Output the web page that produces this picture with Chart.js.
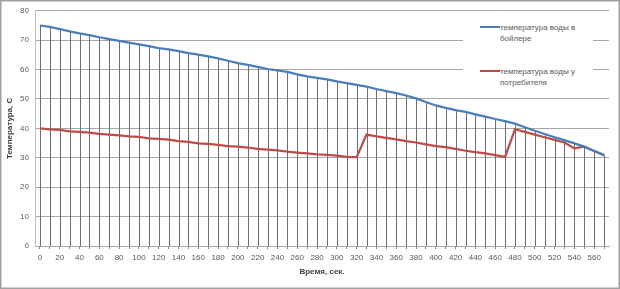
<!DOCTYPE html>
<html><head><meta charset="utf-8">
<script src="https://cdn.jsdelivr.net/npm/chart.js@4"></script>
<style>
html,body{margin:0;padding:0;background:#fff;}
#wrap{position:relative;width:620px;height:289px;}
canvas{display:block;}
#legend{position:absolute;left:463px;top:12px;width:130px;height:83px;background:#fff;font-family:"Liberation Sans",Arial,sans-serif;font-size:8px;color:#595959;}
.sw{position:absolute;left:17px;width:20px;height:2px;}
.txt{position:absolute;left:37px;line-height:11px;white-space:nowrap;}
</style>
</head><body>
<div id="wrap">
<canvas id="c" width="620" height="289"></canvas>
<div id="legend">
  <div class="sw" style="top:14px;background:#4a7ebb"></div>
  <div class="txt" style="top:9.5px">температура воды в<br>бойлере</div>
  <div class="sw" style="top:58px;background:#be4b48"></div>
  <div class="txt" style="top:53.5px">температура воды у<br>потребителя</div>
</div>
</div>
<script>
const times = [0,10,20,30,40,50,60,70,80,90,100,110,120,130,140,150,160,170,180,190,200,210,220,230,240,250,260,270,280,290,300,310,320,330,340,350,360,370,380,390,400,410,420,430,440,450,460,470,480,490,500,510,520,530,540,550,560,570];
const boiler = [75,74.5,73.8,73.0,72.3,71.7,71.0,70.4,69.8,69.2,68.6,68.0,67.3,66.9,66.3,65.6,65.1,64.5,63.8,63.0,62.2,61.6,60.9,60.2,59.7,59.2,58.4,57.7,57.2,56.7,56.0,55.4,54.8,54.2,53.4,52.7,52.0,51.2,50.2,49.0,47.8,47.0,46.2,45.6,44.8,44.0,43.2,42.5,41.6,40.4,39.2,38.1,37.0,36.0,34.9,33.8,32.3,30.9];
const consumer = [40.0,39.7,39.5,39.0,38.8,38.6,38.1,37.9,37.6,37.3,37.1,36.6,36.4,36.2,35.7,35.4,34.9,34.7,34.4,34.0,33.8,33.5,33.0,32.8,32.5,32.1,31.8,31.5,31.2,31.0,30.7,30.3,30.2,37.9,37.3,36.8,36.3,35.7,35.2,34.6,34.0,33.6,33.0,32.4,31.9,31.5,30.9,30.3,39.7,38.8,37.9,37.0,36.1,35.2,33.2,33.8,32.3,30.9];
const yTicks = [0,10,20,30,40,50,60,70,80];
const seriesNames = ['температура воды в бойлере','температура воды у потребителя'];
const xTitle = 'Время, сек.';
const yTitle = 'Температура, С';

const FAM = '"Liberation Sans", Arial, sans-serif';

const dropLines = {
  id:'dropLines',
  beforeDatasetsDraw(chart){
    const {ctx, scales:{x,y}} = chart;
    ctx.save();
    ctx.strokeStyle = '#6e6e6e';
    ctx.lineWidth = 1;
    const y0 = y.getPixelForValue(0);
    for (let i=0;i<times.length;i++){
      const px = Math.round(x.getPixelForValue(i)) + 0.5;
      const top = y.getPixelForValue(Math.max(boiler[i], consumer[i]));
      ctx.beginPath(); ctx.moveTo(px, top); ctx.lineTo(px, y0); ctx.stroke();
    }
    ctx.restore();
  }
};
const frame = {
  id:'frame',
  beforeDraw(chart){
    const ctx = chart.ctx; ctx.save(); ctx.fillStyle='#fff'; ctx.fillRect(0,0,chart.width,chart.height); ctx.restore();
  },
  afterDraw(chart){
    const ctx = chart.ctx; ctx.save(); ctx.strokeStyle='#a0a0a0'; ctx.lineWidth=1.5;
    ctx.strokeRect(0.75,0.75,chart.width-1.5,chart.height-1.5); ctx.restore();
  }
};

new Chart(document.getElementById('c'), {
  type:'line',
  data:{
    labels: times,
    datasets:[
      {label:seriesNames[0], data:boiler, borderColor:'#4a7ebb', backgroundColor:'#4a7ebb', borderWidth:2.25, pointRadius:0, tension:0},
      {label:seriesNames[1], data:consumer, borderColor:'#be4b48', backgroundColor:'#be4b48', borderWidth:2.25, pointRadius:0, tension:0}
    ]
  },
  options:{
    responsive:false, animation:false, devicePixelRatio:1,
    layout:{padding:{left:0,right:11,top:10,bottom:0}},
    plugins:{legend:{display:false}, tooltip:{enabled:false}},
    scales:{
      x:{
        offset:true,
        grid:{display:true, drawOnChartArea:false, drawTicks:true, tickLength:3, offset:false, color:'#7f7f7f'},
        border:{display:true, color:'#a6a6a6'},
        ticks:{autoSkip:false, maxRotation:0, minRotation:0, padding:4, color:'#595959', font:{size:8, family:FAM},
          callback:(v,i)=> i%2===0 ? String(times[i]) : ''},
        title:{display:true, text:xTitle, color:'#404040', font:{size:8, weight:'bold', family:FAM}, padding:{top:0,bottom:12}},
        afterFit:s=>{s.height=43;}
      },
      y:{
        min:0, max:80,
        afterBuildTicks:s=>{s.ticks = yTicks.map(v=>({value:v}));},
        ticks:{color:'#595959', font:{size:8, family:FAM}, padding:6},
        grid:{color:'#a6a6a6', drawTicks:false},
        border:{display:true, color:'#bfbfbf'},
        title:{display:true, text:yTitle, color:'#404040', font:{size:8, weight:'bold', family:FAM}, padding:{top:5,bottom:0}},
        afterFit:s=>{s.width=35;}
      }
    }
  },
  plugins:[dropLines, frame]
});
</script>
</body></html>
